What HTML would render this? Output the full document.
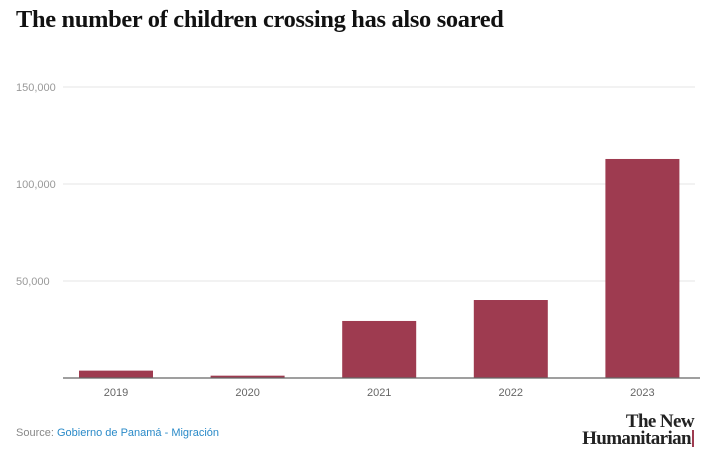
<!DOCTYPE html>
<html><head><meta charset="utf-8"><style>
body{margin:0;width:706px;height:456px;background:#fff;font-family:"Liberation Sans",sans-serif;overflow:hidden;position:relative}
h1{position:absolute;left:16px;top:6px;margin:0;font-family:"Liberation Serif",serif;font-size:24.4px;font-weight:bold;color:#111;letter-spacing:-0.3px}
.src{position:absolute;left:16px;top:427px;font-size:11px;color:#888}
.src span{color:#2a8ac8}
.logo{position:absolute;right:12px;top:413px;font-family:"Liberation Serif",serif;font-weight:bold;font-size:19px;line-height:17px;text-align:right;color:#222;letter-spacing:-0.6px}
.logo .bar{display:inline-block;width:2px;height:17px;background:#9e3b50;vertical-align:-3px;margin-left:1px}
</style></head><body>
<h1>The number of children crossing has also soared</h1>
<svg id="chart" width="706" height="456" style="position:absolute;left:0;top:0"></svg>
<div class="src">Source: <span>Gobierno de Panamá - Migración</span></div>
<div class="logo">The New<br>Humanitarian<span class="bar"></span></div>
<script>
const categories=["2019","2020","2021","2022","2023"];
const values=[3800,1200,29400,40200,112900];
const ticks=[50000,100000,150000];
const tickLabels=["50,000","100,000","150,000"];
const svg=document.getElementById('chart');
const NS="http://www.w3.org/2000/svg";
const gx0=63,gx1=695,y0=378,yScale=v=>y0-v*(291/150000);
const band=131.6,bx0=50.2;
const xScale=i=>bx0+band*i+band/2;
function mk(t,a){const e=document.createElementNS(NS,t);for(const k in a)e.setAttribute(k,a[k]);svg.appendChild(e);return e;}
ticks.forEach((t,i)=>{
 const g=mk('line',{x1:gx0,x2:gx1,y1:yScale(t),y2:yScale(t),stroke:'#e6e6e6','stroke-width':1});
 
 
 const l=mk('text',{x:16,y:yScale(t)+4,'font-size':11,fill:'#999','font-family':'Liberation Sans, sans-serif'});
 l.textContent=tickLabels[i];
 
 
});
categories.forEach((c,i)=>{
 const bw=74,cx=xScale(i);
 const r=mk('rect',{x:cx-bw/2,y:yScale(values[i]),width:bw,height:y0-yScale(values[i]),fill:'#9e3b50'});
 
 
 const t=mk('text',{x:cx,y:396,'font-size':11,fill:'#666','text-anchor':'middle','font-family':'Liberation Sans, sans-serif'});
 t.textContent=c;
 
 
});
const ax=mk('line',{x1:gx0,x2:700,y1:y0,y2:y0,stroke:'#666','stroke-width':1.2});


</script>
</body></html>
